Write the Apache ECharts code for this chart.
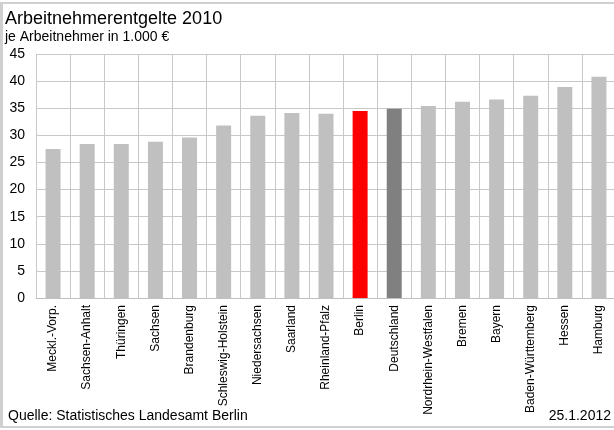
<!DOCTYPE html>
<html>
<head>
<meta charset="utf-8">
<script src="https://cdn.jsdelivr.net/npm/echarts@6/dist/echarts.min.js"></script>
<style>
  body { margin: 0; background: #fff; }
  #frame { position: absolute; left: 0; top: 0; width: 614px; height: 430px; overflow: hidden; }
  #chart { position: absolute; left: 0; top: 0; width: 620px; height: 430px; }
  #border { position: absolute; left: 0; top: 2px; width: 620px; height: 426px; box-sizing: border-box;
            border: 2px solid #d0d0d0; border-left-width: 3px; pointer-events: none; }
</style>
</head>
<body>
<div id="frame">
  <div id="chart"></div>
  <div id="border"></div>
</div>
<script>
const laender = ['Meckl.-Vorp.', 'Sachsen-Anhalt', 'Thüringen', 'Sachsen', 'Brandenburg', 'Schleswig-Holstein',
  'Niedersachsen', 'Saarland', 'Rheinland-Pfalz', 'Berlin', 'Deutschland', 'Nordrhein-Westfalen', 'Bremen',
  'Bayern', 'Baden-Württemberg', 'Hessen', 'Hamburg']
const entgelte = [27.5, 28.4, 28.4, 28.8, 29.6, 31.8, 33.6, 34.1, 34.0, 34.5, 34.9, 35.4, 36.2, 36.6, 37.3, 38.9, 40.8]

const fontFamily = 'Liberation Sans, Arial, sans-serif'
const barColor = name => name === 'Berlin' ? '#FF0000' : name === 'Deutschland' ? '#808080' : '#C0C0C0'

const chart = echarts.init(document.getElementById('chart'))

chart.setOption({
  animation: false,
  backgroundColor: '#fff',
  title: {
    text: 'Arbeitnehmerentgelte 2010',
    subtext: 'je Arbeitnehmer in 1.000 €',
    left: 5,
    top: 10,
    itemGap: 2,
    padding: 0,
    textStyle: { fontFamily, fontSize: 18, fontWeight: 'normal', color: '#000' },
    subtextStyle: { fontFamily, fontSize: 14, color: '#000' }
  },
  grid: { left: 36, top: 54, width: 580, bottom: 132 },
  xAxis: {
    type: 'category',
    data: laender,
    axisLine: { lineStyle: { color: '#C0C0C0' } },
    axisTick: { show: false },
    axisLabel: { interval: 0, rotate: 90, margin: 7, fontFamily, fontSize: 12, color: '#000' },
    splitLine: { show: true, interval: 0, lineStyle: { color: '#C8C8C8' } }
  },
  yAxis: {
    type: 'value',
    min: 0,
    max: 45,
    interval: 5,
    axisLine: { show: false },
    axisTick: { show: false },
    axisLabel: { margin: 11, fontFamily, fontSize: 14, color: '#000' },
    splitLine: { lineStyle: { color: '#C8C8C8' } }
  },
  series: [{
    type: 'bar',
    barWidth: 15,
    data: entgelte.map((v, i) => ({ value: v, itemStyle: { color: barColor(laender[i]) } }))
  }],
  graphic: [
    { type: 'text', left: 8, top: 409, style: { text: 'Quelle: Statistisches Landesamt Berlin', font: '14px ' + fontFamily, fill: '#000' } },
    { type: 'text', right: 9, top: 409, style: { text: '25.1.2012', font: '14px ' + fontFamily, fill: '#000' } }
  ]
})
</script>
</body>
</html>
